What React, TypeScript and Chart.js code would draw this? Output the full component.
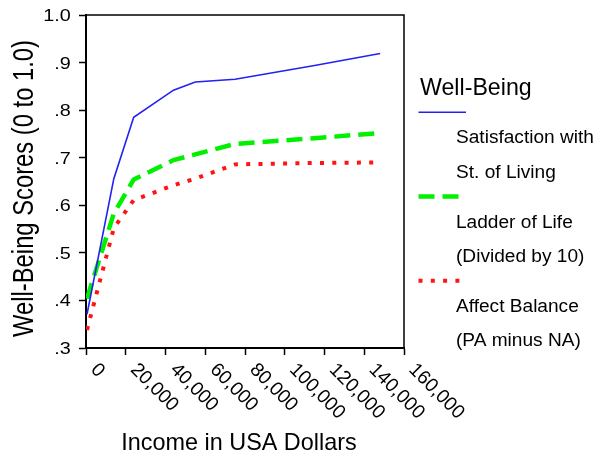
import React, { useEffect, useRef } from "react";
import { Chart, registerables } from "chart.js";

Chart.register(...registerables);

// ---- data ----
const incomes = [500, 14000, 24000, 44000, 55000, 75000, 115000, 148000];
const satisfaction = [0.371, 0.656, 0.785, 0.842, 0.859, 0.865, 0.894, 0.919];
const ladder = [0.404, 0.583, 0.654, 0.695, 0.707, 0.729, 0.741, 0.752];
const affect = [0.338, 0.552, 0.611, 0.642, 0.656, 0.686, 0.689, 0.69];

const seriesLabels = [
  ["Satisfaction with", "St. of Living"],
  ["Ladder of Life", "(Divided by 10)"],
  ["Affect Balance", "(PA minus NA)"],
];
const legendTitle = "Well-Being";
const xTitle = "Income in USA Dollars";
const yTitle = "Well-Being Scores (0 to 1.0)";

const xTickValues = [0, 20000, 40000, 60000, 80000, 100000, 120000, 140000, 160000];
const xTickLabels = ["0", "20,000", "40,000", "60,000", "80,000", "100,000", "120,000", "140,000", "160,000"];
const yTickValues = [0.3, 0.4, 0.5, 0.6, 0.7, 0.8, 0.9, 1.0];
const yTickLabels = [".3", ".4", ".5", ".6", ".7", ".8", ".9", "1.0"];

const FONT = "'Liberation Sans', Arial, Helvetica, sans-serif";
const BLUE = "#2222f2";
const GREEN = "#00f000";
const RED = "#ff1414";

const decorPlugin = {
  id: "decor",
  afterDraw(chart: any) {
    const ctx: CanvasRenderingContext2D = chart.ctx;
    const { left, right, top, bottom } = chart.chartArea;
    const xs = chart.scales.x;
    const ys = chart.scales.y;
    ctx.save();
    // frame (top and right)
    ctx.strokeStyle = "#000";
    ctx.lineWidth = 1.5;
    ctx.beginPath();
    ctx.moveTo(left, top);
    ctx.lineTo(right, top);
    ctx.lineTo(right, bottom);
    ctx.stroke();

    ctx.fillStyle = "#000";
    // y tick labels
    ctx.font = `16.5px ${FONT}`;
    ctx.textAlign = "right";
    ctx.textBaseline = "alphabetic";
    yTickValues.forEach((v, i) => {
      const py = ys.getPixelForValue(v);
      ctx.save();
      ctx.translate(left - 15.3, py + 6);
      ctx.scale(1.2, 1);
      ctx.fillText(yTickLabels[i], 0, 0);
      ctx.restore();
    });

    // x tick labels (rotated 45° clockwise)
    ctx.font = `19.3px ${FONT}`;
    ctx.textAlign = "left";
    xTickValues.forEach((v, i) => {
      const px = xs.getPixelForValue(v);
      ctx.save();
      ctx.translate(px + 4, bottom + 22.5);
      ctx.rotate(Math.PI / 4);
      ctx.fillText(xTickLabels[i], 0, 0);
      ctx.restore();
    });

    // x title
    ctx.font = `23.4px ${FONT}`;
    ctx.textAlign = "center";
    ctx.fillText(xTitle, left + 153, bottom + 102);

    // y title (narrow)
    ctx.save();
    ctx.translate(33, 188.5);
    ctx.rotate(-Math.PI / 2);
    ctx.scale(0.82, 1);
    ctx.font = `29px ${FONT}`;
    ctx.textAlign = "center";
    ctx.fillText(yTitle, 0, 0);
    ctx.restore();

    // legend
    ctx.textAlign = "left";
    ctx.font = `23.2px ${FONT}`;
    ctx.fillText(legendTitle, right + 16, 95);
    ctx.font = `19.1px ${FONT}`;
    chart.data.datasets.forEach((ds: any, i: number) => {
      const sy = 112.3 + 84.2 * i;
      ctx.save();
      ctx.strokeStyle = ds.borderColor;
      ctx.lineWidth = ds.borderWidth;
      ctx.setLineDash(ds.borderDash || []);
      ctx.beginPath();
      ctx.moveTo(right + 14.5, sy);
      ctx.lineTo(right + 62, sy);
      ctx.stroke();
      ctx.restore();
      seriesLabels[i].forEach((line, j) => {
        ctx.fillText(line, right + 52, sy + 31 + 34.4 * j);
      });
    });
    ctx.restore();
  },
};

export default function App() {
  const ref = useRef<HTMLCanvasElement | null>(null);
  useEffect(() => {
    if (!ref.current) return;
    const mk = (vals: number[]) => incomes.map((x, i) => ({ x, y: vals[i] }));
    const chart = new Chart(ref.current, {
      type: "line",
      data: {
        datasets: [
          {
            label: seriesLabels[0].join(" "),
            data: mk(satisfaction),
            borderColor: BLUE,
            borderWidth: 1.6,
            borderDash: [],
            pointRadius: 0,
            tension: 0,
            fill: false,
          },
          {
            label: seriesLabels[1].join(" "),
            data: mk(ladder),
            borderColor: GREEN,
            borderWidth: 4.5,
            borderDash: [16, 8],
            pointRadius: 0,
            tension: 0,
            fill: false,
          },
          {
            label: seriesLabels[2].join(" "),
            data: mk(affect),
            borderColor: RED,
            borderWidth: 4,
            borderDash: [4, 8.3],
            pointRadius: 0,
            tension: 0,
            fill: false,
          },
        ],
      },
      options: {
        responsive: false,
        animation: false,
        layout: { padding: { left: 0, top: 15, right: 192, bottom: 0 } },
        plugins: {
          legend: { display: false },
          tooltip: { enabled: false },
          title: { display: false },
        },
        scales: {
          x: {
            type: "linear",
            min: 0,
            max: 160000,
            afterBuildTicks: (s: any) => {
              s.ticks = xTickValues.map((v) => ({ value: v }));
            },
            afterFit: (s: any) => {
              s.height = 110;
            },
            ticks: { display: false },
            grid: {
              drawOnChartArea: false,
              drawTicks: true,
              tickLength: 7,
              tickColor: "#000",
              tickWidth: 1.5,
            },
            border: { display: true, color: "#000", width: 2 },
          },
          y: {
            type: "linear",
            min: 0.3,
            max: 1.0,
            afterBuildTicks: (s: any) => {
              s.ticks = yTickValues.map((v) => ({ value: v }));
            },
            afterFit: (s: any) => {
              s.width = 86;
            },
            ticks: { display: false },
            grid: {
              drawOnChartArea: false,
              drawTicks: true,
              tickLength: 7,
              tickColor: "#000",
              tickWidth: 1.5,
            },
            border: { display: true, color: "#000", width: 2 },
          },
        },
      },
      plugins: [decorPlugin],
    } as any);
    return () => chart.destroy();
  }, []);
  return (
    <div style={{ position: "absolute", left: 0, top: 0, width: 596, height: 458, background: "#fff" }}>
      <canvas ref={ref} width={596} height={458} style={{ display: "block" }} />
    </div>
  );
}
